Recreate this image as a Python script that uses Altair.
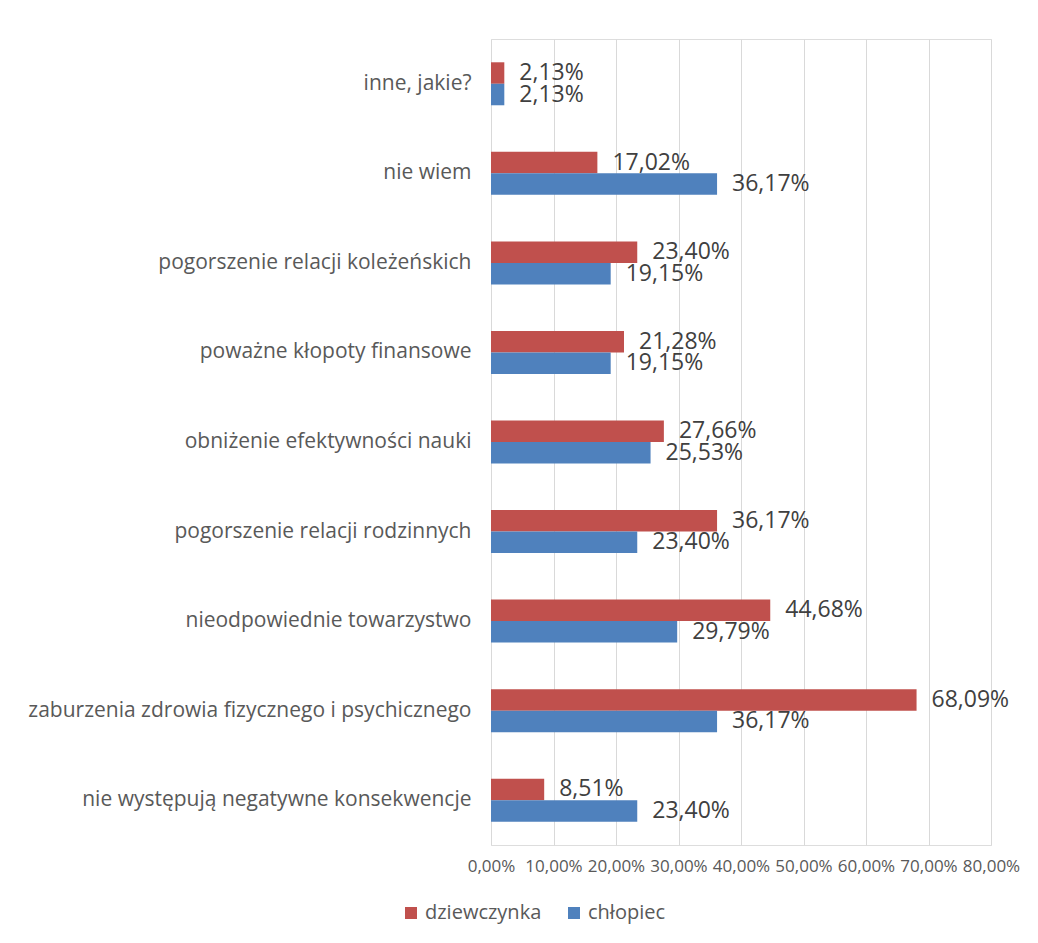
import altair as alt
import pandas as pd

categories = [
    "inne, jakie?",
    "nie wiem",
    "pogorszenie relacji koleżeńskich",
    "poważne kłopoty finansowe",
    "obniżenie efektywności nauki",
    "pogorszenie relacji rodzinnych",
    "nieodpowiednie towarzystwo",
    "zaburzenia zdrowia fizycznego i psychicznego",
    "nie występują negatywne konsekwencje",
]
series_names = ["dziewczynka", "chłopiec"]
dziewczynka = [2.13, 17.02, 23.40, 21.28, 27.66, 36.17, 44.68, 68.09, 8.51]
chlopiec = [2.13, 36.17, 19.15, 19.15, 25.53, 23.40, 29.79, 36.17, 23.40]
x_ticks = [0, 10, 20, 30, 40, 50, 60, 70, 80]
colors = ["#C0504D", "#4F81BD"]

rows = []
for c, g, b in zip(categories, dziewczynka, chlopiec):
    for s, v in zip(series_names, (g, b)):
        rows.append({"kategoria": c, "seria": s, "wartosc": v,
                     "etykieta": f"{v:.2f}%".replace(".", ",")})
df = pd.DataFrame(rows)

FONT = "Open Sans"
TXT = "#595959"

y_enc = alt.Y("kategoria:N", sort=categories, title=None,
              scale=alt.Scale(paddingInner=0.52, paddingOuter=0.26),
              axis=alt.Axis(labelFontSize=21, labelColor=TXT, labelFont=FONT,
                            labelPadding=20, ticks=False, domain=False,
                            labelLimit=600, grid=False))
x_enc = alt.X("wartosc:Q", title=None,
              scale=alt.Scale(domain=[0, 80], nice=False),
              axis=alt.Axis(values=x_ticks, grid=True, gridColor="#D9D9D9",
                            gridWidth=1, ticks=False, domain=False,
                            labelFontSize=17, labelColor=TXT, labelFont=FONT,
                            labelPadding=13, labelOverlap=False, labelFlush=False,
                            labelExpr="replace(format(datum.value, '.2f'), '.', ',') + '%'"))
yoff = alt.YOffset("seria:N", sort=series_names,
                   scale=alt.Scale(paddingInner=0, paddingOuter=0))

bars = alt.Chart(df).mark_bar().encode(
    x=x_enc,
    y=y_enc,
    yOffset=yoff,
    color=alt.Color("seria:N", sort=series_names,
                    scale=alt.Scale(domain=series_names, range=colors),
                    legend=alt.Legend(title=None, orient="none", direction="horizontal",
                                      legendX=-90, legendY=864, symbolType="square",
                                      symbolSize=144, symbolStrokeWidth=0,
                                      labelFontSize=20, labelFont=FONT, labelColor=TXT,
                                      labelOffset=4, columnPadding=22, padding=0)),
)

labels = alt.Chart(df).mark_text(align="left", baseline="middle", dx=15,
                                 fontSize=23, font=FONT, color="#404040").encode(
    x="wartosc:Q",
    y=alt.Y("kategoria:N", sort=categories),
    yOffset=yoff,
    text="etykieta:N",
)

chart = alt.layer(bars, labels).properties(
    width=500, height=806,
    autosize=alt.AutoSizeParams(type="none"),
    padding={"left": 483, "top": 31, "right": 38, "bottom": 90},
).configure_view(stroke=None).configure(background="white")

chart.save("out.html", embed_options={"renderer": "svg", "actions": False})
